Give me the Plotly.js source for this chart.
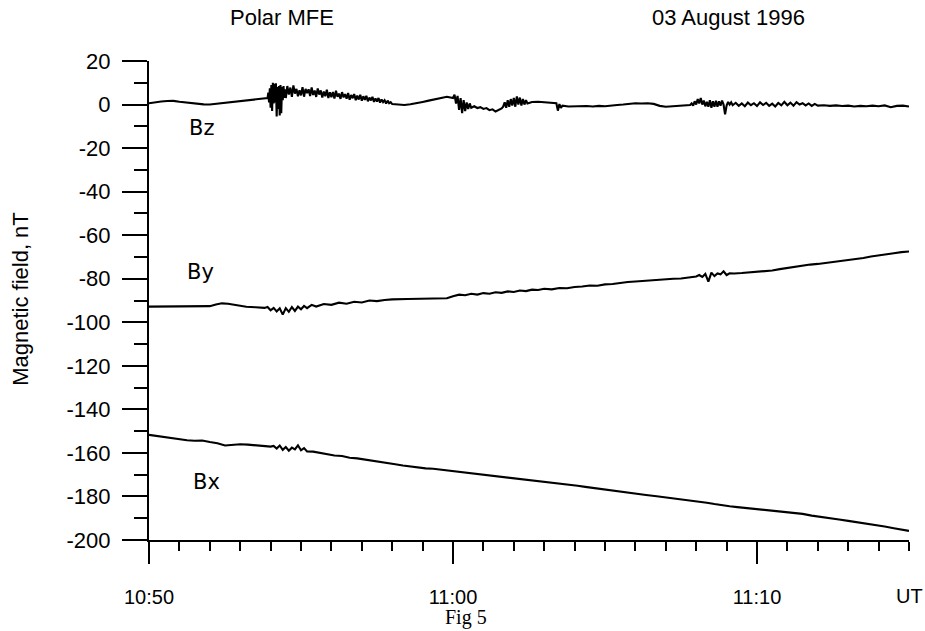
<!DOCTYPE html>
<html>
<head>
<meta charset="utf-8">
<script src="https://cdn.plot.ly/plotly-3.0.1.min.js"></script>
<style>html,body{margin:0;padding:0;background:#fff;}#chart{width:925px;height:631px;}</style>
</head>
<body>
<div id="chart"></div>
<script>
// Time in minutes after 10:50 UT, field in nT
var bzTime = [0,0.2,0.4,0.6,0.8,1.0,1.2,1.4,1.6,1.8,2.0,2.2,2.4,2.6,2.8,3.0,3.2,3.4,3.6,3.8,
  3.9,3.925,3.95,3.975,4.0,4.025,4.05,4.075,4.1,4.125,4.15,4.175,4.2,4.225,4.25,4.275,4.3,4.325,4.35,4.375,4.4,4.425,4.45,4.475,4.5,
  4.55,4.6,4.65,4.7,4.75,4.8,4.85,4.9,4.95,5.0,
  5.05,5.1,5.15,5.2,5.25,5.3,5.35,5.4,5.45,5.5,
  5.55,5.6,5.65,5.7,5.75,5.8,5.85,5.9,5.95,6.0,
  6.05,6.1,6.15,6.2,6.25,6.3,6.35,6.4,6.45,6.5,
  6.55,6.6,6.65,6.7,6.75,6.8,6.85,6.9,6.95,7.0,
  7.05,7.1,7.15,7.2,7.25,7.3,7.35,7.4,7.45,7.5,
  7.55,7.6,7.65,7.7,7.75,7.8,7.85,7.9,7.95,8.0,
  8.2,8.4,8.6,8.8,9.0,9.2,9.4,9.6,9.8,10.0,
  10.05,10.1,10.15,10.2,10.25,10.3,10.35,10.4,10.45,10.5,10.55,10.6,
  10.7,10.8,10.9,11.0,11.1,11.2,11.3,11.4,11.5,11.6,
  11.65,11.7,11.75,11.8,11.85,11.9,11.95,12.0,12.05,12.1,12.15,12.2,12.25,12.3,12.35,12.4,12.45,
  12.6,12.8,13.0,13.2,13.4,13.45,13.5,13.55,13.6,13.8,14.0,14.2,14.4,14.6,14.8,15.0,15.2,15.4,15.6,15.8,
  16.0,16.2,16.4,16.6,16.8,17.0,17.2,17.4,17.6,17.8,
  17.85,17.9,17.95,18.0,18.05,18.1,18.15,18.2,18.25,18.3,18.35,18.4,18.45,18.5,18.55,18.6,18.65,18.7,18.75,18.8,
  18.85,18.9,18.95,19.0,19.05,19.1,19.15,19.2,
  19.3,19.4,19.5,19.6,19.7,19.8,19.9,20.0,20.1,20.2,20.3,20.4,20.5,20.6,20.7,20.8,20.9,21.0,21.1,21.2,
  21.3,21.4,21.5,21.6,21.7,21.8,21.9,22.0,
  22.2,22.4,22.6,22.8,23.0,23.2,23.4,23.6,23.8,24.0,24.2,24.4,24.6,24.8,25.0];
var bzValues = [0.6,1.1,1.4,1.6,1.7,1.3,1.0,0.4,0.1,0.1,0.0,0.3,0.7,1.0,1.4,1.7,2.0,2.2,2.5,2.8,
  3.0,5.5,1.0,7.5,-1.5,9.0,-3.0,10.0,0.5,9.5,1.0,9.8,-5.5,8.0,-2.0,8.5,-5.0,9.0,-4.0,8.0,2.0,8.5,3.0,7.0,3.0,
  8.5,4.6,7.8,3.5,8.8,5.0,7.2,3.8,6.6,4.2,
  8.0,3.6,7.2,5.2,7.0,3.9,7.8,4.4,6.4,3.5,
  7.4,4.6,6.5,3.2,6.0,3.8,6.8,3.0,5.6,3.4,
  5.8,2.8,6.3,3.6,5.0,2.6,5.7,3.3,4.8,2.7,
  5.3,2.2,4.4,2.9,4.8,2.0,4.1,2.3,4.5,1.8,
  3.8,2.2,4.0,1.5,3.2,1.9,3.5,1.2,2.8,1.4,
  3.0,0.9,2.3,1.1,2.0,0.5,1.8,0.6,1.1,0.2,
  0.0,-0.2,0.1,0.5,1.2,1.8,2.3,3.0,3.6,3.0,
  4.5,0.5,4.0,-2.5,3.0,-4.0,2.0,-3.0,1.0,-2.0,0.5,-1.5,
  -0.8,-1.6,-1.2,-2.0,-1.6,-2.6,-2.2,-3.2,-2.4,-1.8,
  -1.0,1.0,-1.5,2.0,-1.0,2.5,-0.5,3.0,-1.0,3.7,0.0,3.2,-0.5,2.5,0.0,2.0,0.5,
  1.2,1.3,1.1,1.0,0.6,-2.8,0.2,-1.5,-0.5,-0.9,-0.8,-1.0,-0.7,-0.9,-0.6,-0.8,-0.4,-0.2,0.0,0.4,
  0.6,0.5,0.6,0.3,-0.6,-1.0,-0.8,-0.9,-0.5,-0.2,
  0.5,-0.5,1.5,0.0,2.5,0.5,3.0,0.0,1.8,-0.8,1.2,-1.0,2.0,-1.5,1.5,-1.0,1.8,-1.0,1.5,-0.5,
  1.8,0.0,-4.5,-0.5,1.2,0.0,1.0,-0.3,
  0.8,-0.6,0.5,-0.8,0.9,-0.3,0.6,-0.7,1.0,-0.2,0.8,-0.6,0.4,-0.9,0.7,-0.4,1.2,-0.3,0.9,-0.5,
  1.1,0.0,0.6,-0.4,0.5,-0.6,0.3,-0.5,
  -0.3,-0.6,-0.4,-0.7,-0.5,-0.9,-0.6,-0.8,-0.5,-0.8,-0.4,-1.2,-0.6,-0.5,-0.9];

var byTime = [0,0.5,1.0,1.5,1.8,2.0,2.2,2.4,2.6,2.8,3.0,3.2,3.5,3.8,
  3.9,4.0,4.1,4.2,4.3,4.4,4.5,4.6,4.7,4.8,4.9,5.0,5.1,5.2,
  5.35,5.5,5.75,6.0,6.25,6.5,6.75,7.0,7.25,7.5,
  7.75,8.0,8.5,9.0,9.5,9.8,10.0,10.2,10.4,
  10.6,10.8,11.0,11.2,11.4,11.6,11.8,12.0,12.2,12.4,12.6,12.8,
  13.0,13.25,13.5,13.75,14.0,14.25,14.5,14.75,15.0,15.25,15.5,15.75,16.0,16.25,16.5,16.75,17.0,17.25,17.5,17.75,18.0,
  18.1,18.2,18.3,18.4,18.5,18.6,18.7,18.8,18.9,19.0,19.1,
  19.25,19.5,19.75,20.0,20.25,20.5,20.75,21.0,21.25,21.5,21.75,22.0,22.25,22.5,22.75,23.0,23.25,23.5,23.75,24.0,24.25,24.5,24.75,25.0];
var byValues = [-92.8,-92.8,-92.8,-92.8,-92.8,-92.6,-91.8,-91.3,-91.5,-92.0,-92.6,-92.9,-93.1,-93.4,
  -93.0,-94.5,-93.4,-95.0,-93.6,-96.5,-93.5,-95.2,-93.0,-94.8,-92.8,-94.0,-92.5,-93.5,
  -92.0,-92.8,-91.6,-92.0,-91.0,-91.5,-90.6,-90.9,-90.0,-90.3,
  -89.8,-89.5,-89.3,-89.2,-89.2,-89.0,-88.0,-87.3,-87.6,
  -86.9,-87.3,-86.6,-86.9,-86.2,-86.5,-85.8,-86.1,-85.4,-85.7,-85.0,-85.2,
  -84.6,-84.9,-84.3,-84.4,-83.8,-83.6,-83.1,-83.2,-82.6,-82.4,-81.9,-81.5,-81.3,-81.0,-80.9,-80.4,-80.3,-80.0,-79.9,-79.6,-79.0,
  -78.3,-79.2,-77.8,-81.3,-77.2,-78.8,-77.6,-78.0,-76.6,-78.3,-77.5,
  -77.6,-77.4,-77.1,-76.9,-76.6,-76.2,-75.6,-75.0,-74.6,-74.0,-73.5,-73.2,-72.8,-72.4,-71.8,-71.3,-70.9,-70.5,-69.8,-69.4,-68.8,-68.3,-67.8,-67.5];

var bxTime = [0,0.25,0.5,0.75,1.0,1.25,1.5,1.75,2.0,2.25,2.5,2.75,3.0,3.25,3.5,3.75,4.0,
  4.1,4.2,4.3,4.4,4.5,4.6,4.7,4.8,4.9,5.0,5.1,5.2,
  5.4,5.6,5.85,6.1,6.35,6.6,6.85,7.1,7.35,7.6,7.85,8.1,8.35,8.6,8.85,9.1,9.35,9.6,9.85,10.1,
  10.35,10.6,10.85,11.1,11.35,11.6,11.85,12.1,12.35,12.6,12.85,
  13.1,13.35,13.6,13.85,14.1,14.35,14.6,14.85,15.1,15.35,15.6,15.85,16.1,16.35,16.7,17.0,17.3,17.6,17.85,18.1,
  18.35,18.6,18.85,19.1,19.35,19.7,20.0,20.3,20.6,20.9,21.2,21.5,21.8,22.1,22.4,22.7,23.0,23.3,23.6,23.9,24.2,24.5,24.75,25.0];
var bxValues = [-151.7,-152.2,-152.6,-153.3,-153.8,-154.2,-154.4,-154.3,-155.0,-155.6,-156.6,-156.4,-156.0,-156.2,-156.5,-156.8,-157.1,
  -156.8,-158.0,-156.6,-158.6,-157.3,-159.0,-157.6,-158.4,-156.5,-158.8,-157.8,-159.3,
  -159.4,-160.0,-160.6,-161.2,-161.4,-162.2,-162.5,-163.0,-163.5,-163.9,-164.6,-165.2,-165.8,-166.3,-166.6,-167.1,-167.3,-167.7,-168.0,-168.4,
  -168.8,-169.2,-169.7,-170.2,-170.6,-171.0,-171.4,-171.8,-172.0,-172.4,-172.9,
  -173.4,-173.8,-174.1,-174.6,-175.1,-175.6,-176.1,-176.6,-177.0,-177.5,-178.0,-178.4,-178.8,-179.3,-179.9,-180.4,-181.0,-181.4,-181.8,-182.3,
  -182.9,-183.5,-184.1,-184.5,-184.9,-185.4,-185.9,-186.2,-186.6,-187.0,-187.4,-188.0,-188.8,-189.5,-190.1,-190.6,-191.2,-191.8,-192.3,-193.0,-193.8,-194.6,-195.2,-195.8];

var xTickVals = [0, 10, 20];
var xTickText = ['10:50', '11:00', '11:10'];
var yTickVals = [20, 0, -20, -40, -60, -80, -100, -120, -140, -160, -180, -200];
var yTickText = ['20', '0', '-20', '-40', '-60', '-80', '-100', '-120', '-140', '-160', '-180', '-200'];
var seriesNames = ['Bz', 'By', 'Bx'];

var lineStyle = {color: '#000', width: 2.1};
var traces = [
  {x: bzTime, y: bzValues, name: seriesNames[0], mode: 'lines', line: lineStyle, hoverinfo: 'skip'},
  {x: byTime, y: byValues, name: seriesNames[1], mode: 'lines', line: lineStyle, hoverinfo: 'skip'},
  {x: bxTime, y: bxValues, name: seriesNames[2], mode: 'lines', line: lineStyle, hoverinfo: 'skip'}
];

var sans = 'Liberation Sans, Arial, sans-serif';
var labelFont = {family: 'DejaVu Sans, sans-serif', size: 21, color: '#000'};
var layout = {
  width: 925, height: 631,
  margin: {l: 149, r: 16, t: 61, b: 91, pad: 0},
  paper_bgcolor: '#fff', plot_bgcolor: '#fff',
  showlegend: false,
  xaxis: {
    range: [0, 25], showgrid: false, zeroline: false,
    showline: true, linecolor: '#000', linewidth: 2,
    tickmode: 'array', tickvals: xTickVals, ticktext: xTickText,
    ticks: 'outside', ticklen: 22, tickwidth: 2, tickcolor: '#000',
    ticklabelstandoff: 16,
    tickfont: {family: sans, size: 20, color: '#000'},
    minor: {tickmode: 'linear', tick0: 0, dtick: 1, ticks: 'outside', ticklen: 9, tickwidth: 2, tickcolor: '#000', showgrid: false}
  },
  yaxis: {
    range: [-200, 20], showgrid: false, zeroline: false,
    showline: true, linecolor: '#000', linewidth: 2,
    tickmode: 'array', tickvals: yTickVals, ticktext: yTickText,
    ticks: 'outside', ticklen: 25, tickwidth: 2, tickcolor: '#000',
    ticklabelstandoff: 7,
    tickfont: {family: sans, size: 22, color: '#000'},
    minor: {tickmode: 'linear', tick0: 0, dtick: 10, ticks: 'outside', ticklen: 13, tickwidth: 2, tickcolor: '#000', showgrid: false}
  },
  annotations: [
    {text: 'Polar MFE', xref: 'paper', yref: 'paper', x: 0.175, y: 1.0898, xanchor: 'center', yanchor: 'middle', showarrow: false, font: {family: sans, size: 22, color: '#000'}},
    {text: '03 August 1996', xref: 'paper', yref: 'paper', x: 0.763, y: 1.0898, xanchor: 'center', yanchor: 'middle', showarrow: false, font: {family: sans, size: 22, color: '#000'}},
    {text: 'Magnetic field, nT', xref: 'paper', yref: 'paper', x: -0.17, y: 0.503, xanchor: 'center', yanchor: 'middle', textangle: -90, showarrow: false, font: {family: sans, size: 22, color: '#000'}},
    {text: 'UT', xref: 'x', yref: 'paper', x: 25, y: -0.117, xanchor: 'center', yanchor: 'middle', showarrow: false, font: {family: sans, size: 20, color: '#000'}},
    {text: 'Fig 5', xref: 'paper', yref: 'paper', x: 0.417, y: -0.162, xanchor: 'center', yanchor: 'middle', showarrow: false, font: {family: 'Liberation Serif, Times New Roman, serif', size: 20, color: '#000'}},
    {text: seriesNames[0], xref: 'x', yref: 'y', x: 1.74, y: -10.6, xanchor: 'center', yanchor: 'middle', showarrow: false, font: labelFont},
    {text: seriesNames[1], xref: 'x', yref: 'y', x: 1.7, y: -76.7, xanchor: 'center', yanchor: 'middle', showarrow: false, font: labelFont},
    {text: seriesNames[2], xref: 'x', yref: 'y', x: 1.9, y: -173.2, xanchor: 'center', yanchor: 'middle', showarrow: false, font: labelFont}
  ]
};

Plotly.newPlot('chart', traces, layout, {staticPlot: true, displayModeBar: false});
</script>
</body>
</html>
